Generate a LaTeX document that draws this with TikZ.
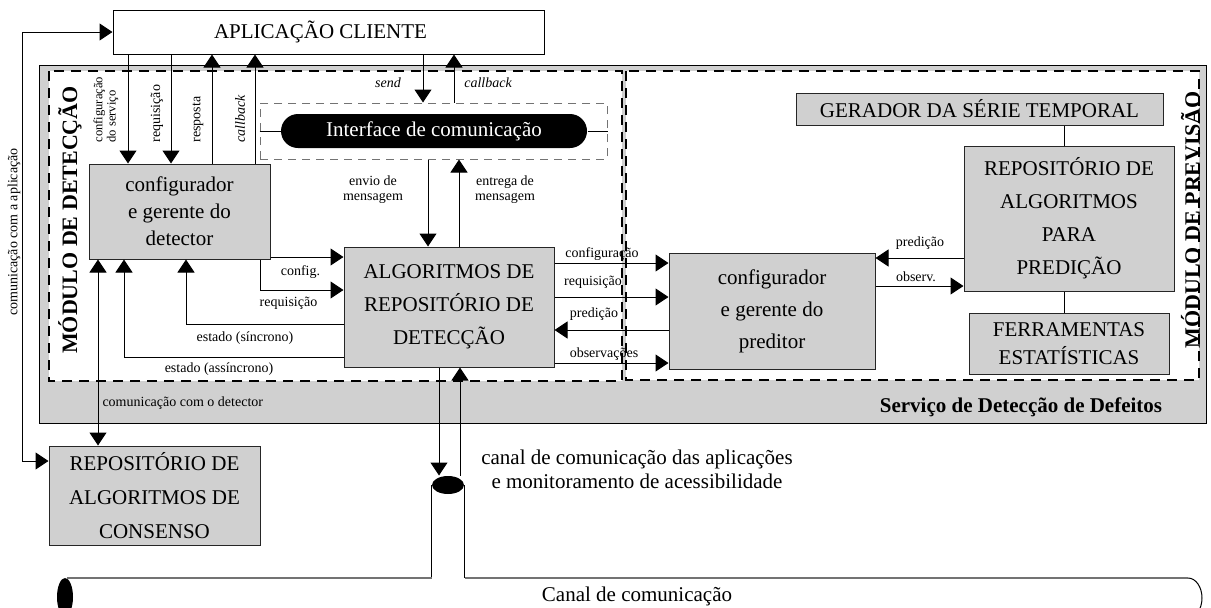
\documentclass[tikz,border=0pt]{standalone}
\usepackage{fontspec}
\setmainfont{Liberation Serif}
\usetikzlibrary{arrows.meta, shapes.geometric}

\definecolor{boxgray}{RGB}{208,208,208}
\definecolor{pipegray}{RGB}{115,115,115}

\tikzset{
  box/.style={draw=black!85, fill=boxgray, inner sep=0pt, align=center},
  arr/.style={-{Triangle[width=8.5pt,length=6.5pt]}},
  darr/.style={{Triangle[width=8.5pt,length=6.5pt]}-{Triangle[width=8.5pt,length=6.5pt]}},
  lbl/.style={font=\fontsize{7}{7.5}\selectfont, inner sep=0pt, align=center},
  modline/.style={dash pattern=on 5pt off 3.5pt, line width=1pt},
  modtitle/.style={font=\bfseries\fontsize{11}{13}\selectfont, rotate=90, inner sep=0pt},
}

\begin{document}
\begin{tikzpicture}[x=0.5pt, y=-0.5pt, line width=0.5pt]
        \useasboundingbox (0,0) rectangle (1211,607);

        % servico e modulos
        \draw[fill=boxgray] (39,65) rectangle (1206,423);
        \draw[modline, fill=white] (49,71) rectangle (622,381);
        \draw[modline, fill=white] (626,71) rectangle (1199,380);
        \node[modtitle] (tdet) at (70,220) {MÓDULO DE DETECÇÃO};
        \node[modtitle] (tprev) at (1190.5,220) {MÓDULO DE PREVISÃO};
        \node[font=\bfseries\fontsize{10.5}{12}\selectfont, inner sep=0pt] (tserv) at (1021,407) {Serviço de Detecção de Defeitos};

        % caixas
        \node[draw, fill=white, inner sep=0pt, minimum width=215.5pt, minimum height=22pt, font=\fontsize{10.5}{12}\selectfont] (client) at (328.5,32) {APLICAÇÃO CLIENTE\hspace*{8pt}};
        \node[box, minimum width=90.5pt, minimum height=47.5pt, font=\fontsize{10.5}{13.5}\selectfont] (cfgdet) at (179.5,211.5) {configurador\\e gerente do\\detector};
        \node[box, minimum width=105pt, minimum height=60pt, font=\fontsize{10.5}{16.5}\selectfont] (alg) at (449,307) {ALGORITMOS DE\\REPOSITÓRIO DE\\DETECÇÃO};
        \node[box, minimum width=103pt, minimum height=58pt, font=\fontsize{10.5}{16}\selectfont] (cfgpred) at (772,311) {configurador\\e gerente do\\preditor};
        \node[box, minimum width=183.5pt, minimum height=16pt, font=\fontsize{10.5}{12}\selectfont] (gerador) at (979.5,109) {GERADOR DA SÉRIE TEMPORAL};
        \node[box, minimum width=105pt, minimum height=72.5pt, font=\fontsize{10.5}{16.5}\selectfont] (reppred) at (1069,218.5) {REPOSITÓRIO DE\\ALGORITMOS\\PARA\\PREDIÇÃO};
        \node[box, minimum width=100pt, minimum height=30.5pt, font=\fontsize{10.5}{14}\selectfont] (ferr) at (1069,343.5) {FERRAMENTAS\\ESTATÍSTICAS};
        \node[box, minimum width=105.5pt, minimum height=49.5pt, font=\fontsize{10.5}{17}\selectfont] (consenso) at (154.5,495.5) {REPOSITÓRIO DE\\ALGORITMOS DE\\CONSENSO};

        % interface de comunicacao
        \node[draw=black!55, dash pattern=on 4pt off 3pt, inner sep=0pt, minimum width=173.5pt, minimum height=28pt] (ifacebox) at (433.5,131) {};
        \node[fill=black, text=white, rounded corners=8.5pt, inner sep=0pt, minimum width=153pt, minimum height=17pt, font=\fontsize{10.5}{12}\selectfont] (iface) at (434,131) {Interface de comunicação};
        \draw (ifacebox.west) -- (iface.west);
        \draw (iface.east) -- (ifacebox.east);

        % aplicacao <-> detector
        \foreach \xx in {128,171}
            \draw[arr] (client.south -| {\xx,0}) -- (cfgdet.north -| {\xx,0});
        \foreach \xx in {212,255}
            \draw[arr] (cfgdet.north -| {\xx,0}) -- (client.south -| {\xx,0});
        \node[lbl, rotate=90, anchor=west, align=left, font=\fontsize{6.3}{6.6}\selectfont] (lcfg) at (106,143) {configuração\\do serviço};
        \node[lbl, rotate=90, anchor=west] (lreq) at (157,143) {requisição};
        \node[lbl, rotate=90, anchor=west] (lresp) at (198,143) {resposta};
        \node[lbl, rotate=90, anchor=west, font=\itshape\fontsize{7}{7.5}\selectfont] (lcb) at (240,143) {callback};

        \draw[arr] (client.south -| {423,0}) -- (ifacebox.north -| {423,0});
        \draw[arr] (ifacebox.north -| {454,0}) -- (client.south -| {454,0});
        \node[lbl, font=\itshape\fontsize{7}{7.5}\selectfont] (lsend) at (388,83) {send};
        \node[lbl, font=\itshape\fontsize{7}{7.5}\selectfont] (lcb2) at (488,83) {callback};

        \draw[arr] (ifacebox.south -| {428,0}) -- (alg.north -| {428,0});
        \draw[arr] (alg.north -| {459,0}) -- (ifacebox.south -| {459,0});
        \node[lbl] (lenvio) at (373,190) {envio de\\mensagem};
        \node[lbl] (lentrega) at (505,190) {entrega de\\mensagem};

        % detector <-> algoritmos
        \draw[arr] (cfgdet.east |- {0,257}) -- (alg.west |- {0,257});
        \draw[arr] (cfgdet.south -| {260,0}) |- (alg.west |- {0,290});
        \draw[arr] (alg.west |- {0,324}) -| (cfgdet.south -| {186,0});
        \draw[arr] (alg.west |- {0,357}) -| (cfgdet.south -| {124,0});
        \node[lbl] (lconfig) at (300.5,272) {config.};
        \node[lbl] (lreq2) at (288.5,303) {requisição};
        \node[lbl] (lsinc) at (245,338) {estado (síncrono)};
        \node[lbl] (lassinc) at (219,369) {estado (assíncrono)};

        % algoritmos <-> preditor
        \draw[arr] (alg.east |- {0,263}) -- (cfgpred.west |- {0,263});
        \draw[arr] (alg.east |- {0,297}) -- (cfgpred.west |- {0,297});
        \draw[arr] (cfgpred.west |- {0,330}) -- (alg.east |- {0,330});
        \draw[arr] (alg.east |- {0,363}) -- (cfgpred.west |- {0,363});
        \node[lbl] (lcfg2) at (602,254) {configuração};
        \node[lbl] (lreq3) at (593,282) {requisição};
        \node[lbl] (lpred) at (594,314) {predição};
        \node[lbl] (lobs) at (604,354) {observações};

        \draw[arr] (reppred.west |- {0,258}) -- (cfgpred.east |- {0,258});
        \draw[arr] (cfgpred.east |- {0,286}) -- (reppred.west |- {0,286});
        \node[lbl] (lpred2) at (920,243) {predição};
        \node[lbl] (lobs2) at (916,277) {observ.};
        \draw (gerador.south -| {1064,0}) -- (reppred.north -| {1064,0});
        \draw (reppred.south -| {1064,0}) -- (ferr.north -| {1064,0});

        % consenso
        \draw[darr] (cfgdet.south -| {98,0}) -- (consenso.north -| {98,0});
        \node[lbl, anchor=west] (ldet) at (102,403) {comunicação com o detector};
        \draw[darr] (client.west) -- ++(-90,0) |- (consenso.west |- {0,461});
        \node[lbl, rotate=90] (lapl) at (14,232) {comunicação com a aplicação};

        % canal
        \node[ellipse, fill=black, inner sep=0pt, minimum width=16pt, minimum height=9pt] (mouth) at (448,485) {};
        \draw[arr] (alg.south -| {439,0}) -- (mouth.north -| {439,0});
        \draw[arr] (mouth.north -| {460,0}) -- (alg.south -| {460,0});
        \node[font=\fontsize{10.5}{12}\selectfont, inner sep=0pt, align=center] (lcanal) at (637,469) {canal de comunicação das aplicações\\e monitoramento de acessibilidade};

        \draw (mouth.west) -- ++(0,93);
        \draw (mouth.east) -- ++(0,93);
        \draw[pipegray, line width=1pt] (mouth.west |- {0,578}) -- (67,578);
        \draw[pipegray, line width=1pt] (mouth.east |- {0,578}) -- (1188,578);
        \draw (1188,578) arc[start angle=90, end angle=-90, x radius=7pt, y radius=10pt];
        \fill (65,597) ellipse [x radius=4pt, y radius=9.5pt];
        \node[font=\fontsize{10.5}{12}\selectfont, inner sep=0pt] (lcanal2) at (637,596) {Canal de comunicação};
\end{tikzpicture}
\end{document}
